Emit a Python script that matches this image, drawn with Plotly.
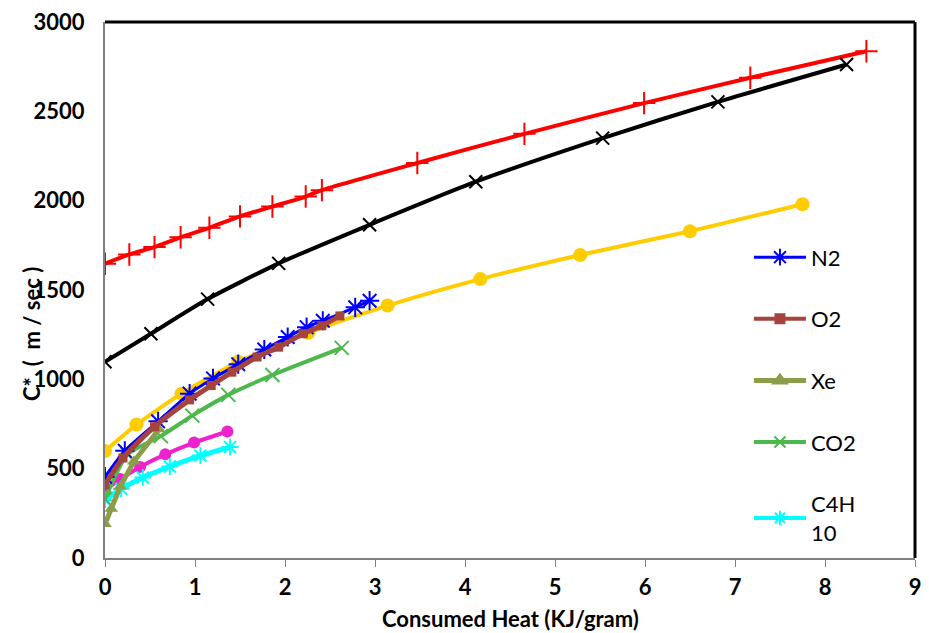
import plotly.graph_objects as go

# ---- data ----
red_x = [0, 0.27, 0.55, 0.84, 1.16, 1.50, 1.86, 2.23, 2.41, 3.47, 4.66, 5.99, 7.17, 8.46]
red_y = [1647, 1699, 1740, 1795, 1848, 1912, 1967, 2023, 2059, 2211, 2374, 2546, 2688, 2836]

black_x = [0, 0.51, 1.14, 1.93, 2.94, 4.12, 5.53, 6.81, 8.24]
black_y = [1098, 1255, 1449, 1649, 1865, 2106, 2350, 2553, 2762]

yellow_x = [0, 0.35, 0.85, 1.48, 2.26, 3.14, 4.17, 5.28, 6.50, 7.75]
yellow_y = [599, 747, 920, 1098, 1261, 1413, 1561, 1696, 1829, 1980]

magenta_x = [0, 0.17, 0.39, 0.67, 0.99, 1.36]
magenta_y = [380, 442, 510, 580, 646, 708]

n2_x = [0, 0.22, 0.59, 0.94, 1.20, 1.48, 1.77, 2.03, 2.24, 2.42, 2.78, 2.94]
n2_y = [455, 600, 765, 920, 1005, 1085, 1167, 1237, 1292, 1328, 1403, 1440]

o2_x = [0, 0.20, 0.55, 0.94, 1.18, 1.41, 1.69, 1.93, 2.20, 2.41, 2.61]
o2_y = [410, 560, 735, 885, 965, 1040, 1125, 1180, 1255, 1300, 1355]

xe_x = [0, 0.07, 0.17, 0.32, 0.60]
xe_y = [190, 275, 400, 540, 720]

co2_x = [0, 0.25, 0.62, 0.97, 1.37, 1.86, 2.63]
co2_y = [330, 580, 682, 797, 913, 1024, 1176]

c4h10_x = [0, 0.18, 0.42, 0.72, 1.06, 1.39]
c4h10_y = [325, 387, 450, 512, 573, 621]

x_ticks = [0, 1, 2, 3, 4, 5, 6, 7, 8, 9]
y_ticks = [0, 500, 1000, 1500, 2000, 2500, 3000]

FONT = "Lato"

fig = go.Figure()


def add(x, y, color, symbol, msize, lw=4, mline=2, shape="spline"):
    fig.add_trace(go.Scatter(
        x=x, y=y, mode="lines+markers", showlegend=False,
        line=dict(color=color, width=lw, shape=shape, smoothing=0.6),
        marker=dict(symbol=symbol, size=msize, color=color,
                    line=dict(color=color, width=mline)),
    ))


# plotted series
add(red_x, red_y, "#FF0000", "cross-thin", 16, lw=4, mline=2)
add(black_x, black_y, "#000000", "x-thin", 13, lw=4, mline=2)
add(yellow_x, yellow_y, "#FFCC00", "circle", 14, lw=4, mline=0)
add(magenta_x, magenta_y, "#EE22CC", "circle", 12, lw=4, mline=0)
add(c4h10_x, c4h10_y, "#00FFFF", "asterisk", 14, lw=5, mline=2)
add(co2_x, co2_y, "#4DB84D", "x-thin", 14, lw=4, mline=2)
add(xe_x, xe_y, "#8A9E4A", "triangle-up", 12, lw=5, mline=0, shape="linear")
add(n2_x, n2_y, "#0000FF", "asterisk", 16, lw=3, mline=2)
add(o2_x, o2_y, "#A5443E", "square", 9, lw=5, mline=0)

# legend entries, in order N2, O2, Xe, CO2, C4H10
legend_defs = [
    ("N2", "#0000FF", "asterisk", 14, 3),
    ("O2", "#A5443E", "square", 9, 4),
    ("Xe", "#8A9E4A", "triangle-up", 12, 5),
    ("CO2", "#4DB84D", "x-thin", 11, 4),
    ("C4H<br>10", "#00FFFF", "asterisk", 12, 4),
]
for nm, col, sym, ms, lw in legend_defs:
    fig.add_trace(go.Scatter(
        x=[None], y=[None], mode="lines+markers", name=nm, legendgroup=nm,
        line=dict(color=col, width=lw),
        marker=dict(symbol=sym, size=ms, color=col, line=dict(color=col, width=2)),
    ))

fig.update_layout(
    width=929, height=633,
    margin=dict(l=105, r=8, t=17, b=75),
    paper_bgcolor="white", plot_bgcolor="white",
    font=dict(family=FONT, color="black"),
    legend=dict(x=0.795, y=0.6, xanchor="left", yanchor="top",
                font=dict(family=FONT, size=22, color="black"),
                tracegroupgap=30, itemwidth=52, bgcolor="rgba(0,0,0,0)",
                traceorder="grouped"),
    xaxis=dict(range=[0, 9], tickvals=x_ticks, ticktext=[str(v) for v in x_ticks],
               showgrid=False, zeroline=False, showline=True, linecolor="#808080",
               linewidth=2, ticks="outside", tickcolor="#808080", ticklen=7,
               tickfont=dict(family=FONT, size=22, color="black", weight="bold"),
               ticklabelstandoff=2),
    yaxis=dict(range=[0, 3000], tickvals=y_ticks, ticktext=[str(v) for v in y_ticks],
               showgrid=False, zeroline=False, showline=True, linecolor="#808080",
               linewidth=2, ticks="",
               tickfont=dict(family=FONT, size=22, color="black", weight="bold"),
               ticklabelstandoff=14),
    shapes=[
        dict(type="line", xref="paper", yref="paper", x0=0, x1=1, y0=1, y1=1,
             line=dict(color="black", width=3)),
        dict(type="line", xref="paper", yref="paper", x0=1, x1=1, y0=0, y1=1,
             line=dict(color="black", width=3)),
    ],
    annotations=[
        dict(text="Consumed Heat (KJ/gram)", xref="paper", yref="paper",
             x=0.5, y=-0.113, xanchor="center", yanchor="middle", showarrow=False,
             font=dict(family=FONT, size=22, color="black", weight="bold")),
        dict(text="C*  (  m / sec )", xref="paper", yref="paper",
             x=-0.09, y=0.418, xanchor="center", yanchor="middle", showarrow=False,
             textangle=-90,
             font=dict(family=FONT, size=22, color="black", weight="bold")),
    ],
)

fig.write_html("out.html")
